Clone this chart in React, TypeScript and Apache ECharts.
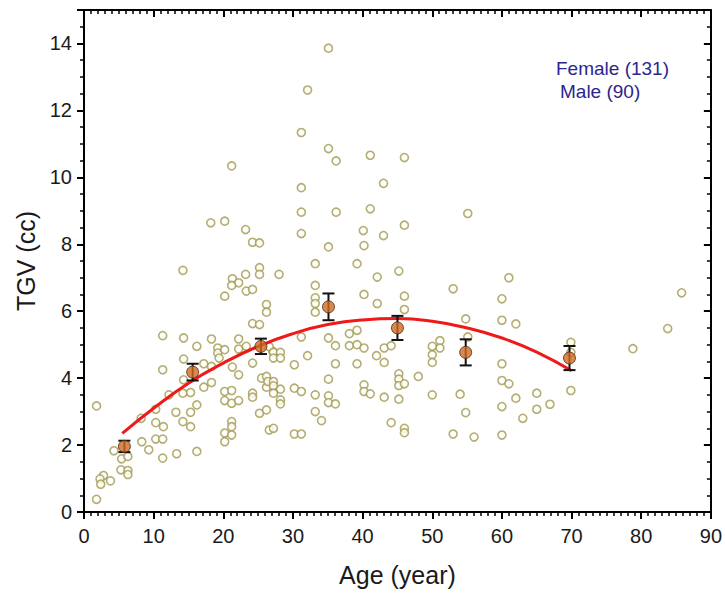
import React, { useEffect, useRef } from "react";
import * as echarts from "echarts";

// Individual subjects: [age (year), TGV (cc)]
const subjects: [number, number][] = [
  [1.8, 3.17], [4.3, 1.83], [5.4, 1.59], [6.3, 1.66], [5.3, 1.26], [6.3, 1.24], [6.3, 1.12], [2.8, 1.09],
  [2.3, 0.99], [2.4, 0.83], [3.8, 0.93], [1.8, 0.38], [8.3, 2.1], [9.3, 1.86], [10.3, 2.18], [11.3, 2.18],
  [11.3, 1.61], [13.3, 1.74], [16.2, 1.81], [10.3, 2.67], [11.4, 2.55], [10.3, 3.07], [8.2, 2.8], [13.2, 2.98],
  [14.2, 2.7], [15.3, 2.98], [15.3, 2.55], [16.2, 3.2], [12.2, 3.5], [14.2, 3.55], [15.3, 3.57], [17.2, 3.73],
  [18.3, 3.87], [20.2, 3.6], [21.2, 3.63], [20.2, 3.33], [21.2, 3.25], [22.2, 3.33], [24.2, 3.55], [24.2, 3.43],
  [26.2, 3.73], [25.2, 2.95], [26.2, 3.05], [21.2, 2.7], [21.2, 2.55], [20.2, 2.36], [21.2, 2.3], [20.2, 2.1],
  [26.6, 2.45],
  [14.2, 7.22], [11.3, 5.27], [14.3, 5.2], [16.2, 4.95], [18.3, 5.17], [19.2, 4.9], [19.2, 4.75], [20.2, 4.85],
  [19.4, 4.6], [22.2, 5.17], [22.2, 4.87], [23.3, 4.95], [21.3, 4.33], [11.3, 4.25], [14.3, 4.57], [17.2, 4.43],
  [18.3, 4.35], [14.3, 3.95], [22.2, 4.1], [24.2, 4.45], [25.5, 4.0], [26.2, 4.05], [26.4, 3.9],
  [21.3, 6.97], [22.2, 6.85], [21.2, 6.77], [23.2, 7.1], [25.2, 7.3], [25.2, 7.1], [28.0, 7.1], [23.3, 6.6],
  [24.2, 6.65], [20.2, 6.45], [26.2, 6.2], [26.2, 5.97], [24.2, 5.63], [25.2, 5.6], [27.1, 4.8],
  [31.2, 11.34], [21.2, 10.34], [31.2, 9.69], [31.2, 8.96], [31.2, 8.32], [18.2, 8.64], [20.2, 8.69], [23.2, 8.44],
  [24.2, 8.06], [25.2, 8.04],
  [35.1, 13.86], [32.1, 12.61], [35.1, 10.86], [36.2, 10.49], [41.1, 10.66], [46.0, 10.59], [43.0, 9.82], [36.2, 8.96],
  [41.1, 9.06], [46.0, 8.57], [40.1, 8.41], [43.0, 8.26],
  [40.2, 7.96], [35.1, 7.92], [33.2, 7.42], [39.2, 7.42], [45.2, 7.2], [42.1, 7.02], [33.2, 6.77], [53.0, 6.67],
  [33.2, 6.4], [33.2, 6.23], [33.2, 5.97], [40.2, 6.5], [46.0, 6.45], [42.1, 6.23], [46.0, 6.05], [54.8, 5.77],
  [35.1, 5.2], [38.1, 5.33], [39.2, 5.43], [38.1, 4.97], [39.2, 5.0], [40.2, 4.9], [36.1, 4.97], [31.2, 5.23],
  [43.1, 4.9], [44.1, 4.97], [51.1, 5.12], [51.1, 4.9], [50.0, 4.7], [50.0, 4.47], [26.6, 4.94], [27.2, 4.77],
  [28.2, 4.77], [27.2, 4.6], [28.2, 4.6], [32.1, 4.67], [30.2, 4.4], [36.1, 4.43], [42.0, 4.67], [43.1, 4.47],
  [35.1, 3.97], [45.2, 4.13], [45.2, 3.97], [45.2, 3.78], [46.0, 3.83], [40.2, 3.8], [40.2, 3.6], [41.1, 3.53],
  [43.1, 3.43], [45.2, 3.37], [48.0, 4.05], [50.0, 3.5], [54.0, 3.52], [54.8, 2.97], [53.0, 2.33], [46.0, 2.5],
  [46.0, 2.37], [44.1, 2.67], [27.2, 3.9], [27.2, 3.77], [28.2, 3.67], [27.2, 3.55], [28.2, 3.35], [28.2, 3.23],
  [30.2, 3.7], [31.2, 3.6], [33.2, 3.5], [35.1, 3.47], [35.1, 3.27], [36.1, 3.23], [33.2, 3.0], [34.1, 2.73],
  [27.2, 2.5], [30.2, 2.33], [31.2, 2.33], [39.2, 4.43], [50.0, 4.95],
  [55.1, 8.92], [61.0, 7.0], [60.0, 6.37], [60.0, 5.73], [62.0, 5.62], [55.1, 5.23], [69.9, 5.07], [69.9, 4.77],
  [69.9, 3.63], [60.0, 4.43], [60.0, 3.93], [61.0, 3.83], [62.0, 3.4], [65.0, 3.55], [66.9, 3.22], [65.0, 3.07],
  [63.0, 2.8], [60.0, 3.15], [60.0, 2.3], [56.0, 2.24], [78.8, 4.88], [83.8, 5.48], [85.8, 6.55],
];

// Decade means with standard errors
const meanAges = [5.8, 15.6, 25.4, 35.1, 45.0, 54.8, 69.7];
const meanTgv = [1.96, 4.18, 4.95, 6.13, 5.5, 4.77, 4.6];
const meanErr = [0.17, 0.25, 0.23, 0.4, 0.36, 0.39, 0.36];

// Fitted curve
const fitAges = [5.5, 10, 15, 20, 25, 30, 35, 40, 45, 50, 55, 60, 65, 70];
const fitTgv = [2.35, 3.1, 3.85, 4.45, 4.95, 5.33, 5.6, 5.74, 5.78, 5.7, 5.5, 5.2, 4.78, 4.22];

const legendLines = ["Female (131)", "Male (90)"];

const FONT = "Liberation Sans, Arial, sans-serif";

export default function App() {
  const ref = useRef<HTMLDivElement>(null);
  useEffect(() => {
    if (!ref.current) return;
    const chart = echarts.init(ref.current, null, { renderer: "svg" });
    const axisLine = { show: true, onZero: false, lineStyle: { color: "#000", width: 2 } };
    const majorTick = (inside: boolean) => ({
      show: true, inside, length: 7, lineStyle: { color: "#000", width: 2 },
    });
    const minor = (n: number) => ({
      show: true, splitNumber: n, length: 4, lineStyle: { color: "#000", width: 1.5 },
    });
    const option = {
      animation: false,
      backgroundColor: "#fff",
      grid: { left: 84, right: 13, top: 10, bottom: 83, containLabel: false },
      xAxis: [
        {
          type: "value", min: 0, max: 90, interval: 10, position: "bottom",
          name: "Age (year)", nameLocation: "middle", nameGap: 50,
          nameTextStyle: { fontFamily: FONT, fontSize: 25, color: "#1a1a1a" },
          axisLine,
          axisTick: majorTick(false),
          minorTick: minor(10),
          axisLabel: { fontFamily: FONT, fontSize: 20, color: "#1a1a1a", margin: 14 },
          splitLine: { show: false },
          minorSplitLine: { show: false },
        },
        {
          type: "value", min: 0, max: 90, interval: 10, position: "top",
          axisLine,
          axisTick: majorTick(true),
          minorTick: minor(10),
          axisLabel: { show: false },
          splitLine: { show: false },
        },
      ],
      yAxis: [
        {
          type: "value", min: 0, max: 15, interval: 2, position: "left",
          name: "TGV (cc)", nameLocation: "middle", nameGap: 46, nameRotate: 90,
          nameTextStyle: { fontFamily: FONT, fontSize: 25, color: "#1a1a1a" },
          axisLine,
          axisTick: majorTick(false),
          minorTick: minor(4),
          axisLabel: { fontFamily: FONT, fontSize: 20, color: "#1a1a1a", margin: 12, showMaxLabel: false },
          splitLine: { show: false },
        },
        {
          type: "value", min: 0, max: 15, interval: 2, position: "right",
          axisLine,
          axisTick: majorTick(true),
          minorTick: minor(4),
          axisLabel: { show: false },
          splitLine: { show: false },
        },
      ],
      series: [
        {
          type: "scatter",
          data: subjects,
          symbol: "circle",
          symbolSize: 8,
          itemStyle: { color: "#fff", borderColor: "#a39a4e", borderWidth: 1.6 },
          z: 2,
        },
        {
          type: "line",
          data: fitAges.map((a, i) => [a, fitTgv[i]]),
          smooth: true,
          showSymbol: false,
          symbol: "none",
          lineStyle: { color: "#ee1a1a", width: 3 },
          z: 3,
        },
        {
          type: "custom",
          data: meanAges.map((a, i) => [a, meanTgv[i], meanErr[i]]),
          renderItem: (params: any, api: any) => {
            const x = api.value(0);
            const m = api.value(1);
            const e = api.value(2);
            const top = api.coord([x, m + e]);
            const bot = api.coord([x, m - e]);
            const cw = 6;
            const style = { stroke: "#111", lineWidth: 2 };
            return {
              type: "group",
              children: [
                { type: "line", shape: { x1: top[0], y1: top[1], x2: bot[0], y2: bot[1] }, style },
                { type: "line", shape: { x1: top[0] - cw, y1: top[1], x2: top[0] + cw, y2: top[1] }, style },
                { type: "line", shape: { x1: bot[0] - cw, y1: bot[1], x2: bot[0] + cw, y2: bot[1] }, style },
              ],
            };
          },
          z: 4,
        },
        {
          type: "scatter",
          data: meanAges.map((a, i) => [a, meanTgv[i]]),
          symbol: "circle",
          symbolSize: 12,
          itemStyle: { color: "#d06a22", borderColor: "#4a2a10", borderWidth: 1 },
          z: 5,
        },
      ],
      graphic: [
        {
          type: "text", left: 556, top: 59,
          style: { text: legendLines[0], fontFamily: FONT, fontSize: 19, fill: "#2b2590" },
        },
        {
          type: "text", left: 560, top: 82,
          style: { text: legendLines[1], fontFamily: FONT, fontSize: 19, fill: "#2b2590" },
        },
      ],
    };
    chart.setOption(option as any);
    return () => chart.dispose();
  }, []);
  return <div ref={ref} style={{ width: 725, height: 595, position: "absolute", left: 0, top: 0 }} />;
}
